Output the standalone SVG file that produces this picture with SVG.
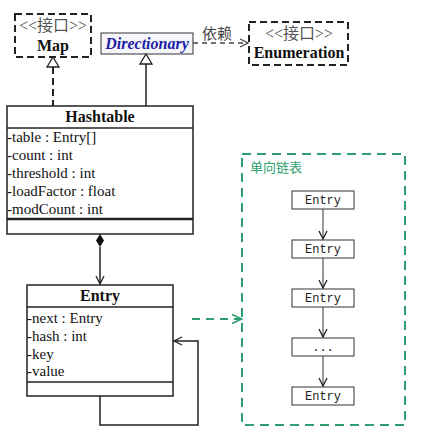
<svg xmlns="http://www.w3.org/2000/svg" width="422" height="447" viewBox="0 0 422 447">
<defs>
<marker id="open" markerWidth="10" markerHeight="10" refX="9" refY="5" orient="auto" markerUnits="userSpaceOnUse">
<path d="M1,1 L9,5 L1,9" fill="none" stroke="#222" stroke-width="1.3"/>
</marker>
<marker id="openGreen" markerWidth="12" markerHeight="12" refX="11" refY="6" orient="auto" markerUnits="userSpaceOnUse">
<path d="M1,1.5 L11,6 L1,10.5" fill="none" stroke="#2e9e6e" stroke-width="1.5"/>
</marker>
<marker id="openGray" markerWidth="10" markerHeight="10" refX="9" refY="5" orient="auto" markerUnits="userSpaceOnUse">
<path d="M1,1 L9,5 L1,9" fill="none" stroke="#444" stroke-width="1.3"/>
</marker>
</defs>
<style>
.serif{font-family:"Liberation Serif","Noto Sans CJK SC",serif;}
.title{font-family:"Liberation Serif",serif;font-weight:bold;font-size:16px;fill:#111;text-anchor:middle;}
.attr{font-family:"Liberation Serif",serif;font-size:15px;fill:#111;}
.stereo{font-family:"Liberation Serif","Noto Sans CJK SC",sans-serif;font-size:16px;fill:#555;text-anchor:middle;}
.mono{font-family:"Liberation Mono",monospace;font-size:12px;fill:#222;text-anchor:middle;}
.box{fill:#fff;stroke:#222;stroke-width:1.5;}
.ibox{fill:#fff;stroke:#222;stroke-width:2;stroke-dasharray:7 4;}
.lbox{fill:#fff;stroke:#333;stroke-width:1;}
.line{fill:none;stroke:#222;stroke-width:1.5;}
</style>
<g id="map">
<rect class="ibox" x="15" y="14" width="76" height="43"/>
<text class="stereo" x="53" y="31">&lt;&lt;接口&gt;&gt;</text>
<text class="title" x="53" y="51">Map</text>
</g>
<g id="directionary">
<rect x="101" y="33" width="92" height="21" fill="#f5f6fa" stroke="#333" stroke-width="1"/>
<text x="147" y="49" font-family="Liberation Serif, serif" font-weight="bold" font-style="italic" font-size="16" fill="#1c1ca6" text-anchor="middle">Directionary</text>
</g>
<g id="enumeration">
<rect class="ibox" x="249" y="22" width="99" height="43"/>
<text class="stereo" x="299" y="39">&lt;&lt;接口&gt;&gt;</text>
<text class="title" x="299" y="58">Enumeration</text>
</g>
<g id="hashtable">
<rect class="box" x="7" y="106" width="186" height="128"/>
<line x1="7" y1="128" x2="193" y2="128" stroke="#222" stroke-width="1.5"/>
<line x1="7" y1="219" x2="193" y2="219" stroke="#222" stroke-width="2.5"/>
<text class="title" x="100" y="122">Hashtable</text>
<text class="attr" x="7" y="142">-table : Entry[]</text>
<text class="attr" x="7" y="160">-count : int</text>
<text class="attr" x="7" y="178">-threshold : int</text>
<text class="attr" x="7" y="196">-loadFactor : float</text>
<text class="attr" x="7" y="214">-modCount : int</text>
</g>
<g id="entry">
<rect class="box" x="27" y="285" width="146" height="111"/>
<line x1="27" y1="307" x2="173" y2="307" stroke="#222" stroke-width="1.5"/>
<line x1="27" y1="382" x2="173" y2="382" stroke="#222" stroke-width="1.5"/>
<text class="title" x="100" y="301">Entry</text>
<text class="attr" x="27" y="323">-next : Entry</text>
<text class="attr" x="27" y="341">-hash : int</text>
<text class="attr" x="27" y="359">-key</text>
<text class="attr" x="27" y="376">-value</text>
</g>
<g id="linkedlist">
<rect x="242" y="154" width="163" height="271" fill="none" stroke="#2e9e6e" stroke-width="2" stroke-dasharray="9 6"/>
<text x="250" y="172" font-family="Noto Sans CJK SC, sans-serif" font-size="13" fill="#2e9e6e">单向链表</text>
<g id="le1"><rect class="lbox" x="292" y="191" width="62" height="18"/><text class="mono" x="323" y="204">Entry</text></g>
<g id="le2"><rect class="lbox" x="292" y="240" width="62" height="18"/><text class="mono" x="323" y="253">Entry</text></g>
<g id="le3"><rect class="lbox" x="292" y="289" width="62" height="18"/><text class="mono" x="323" y="302">Entry</text></g>
<g id="le4"><rect class="lbox" x="292" y="338" width="62" height="18"/><text class="mono" x="323" y="351">...</text></g>
<g id="le5"><rect class="lbox" x="292" y="387" width="62" height="18"/><text class="mono" x="323" y="400">Entry</text></g>
</g>
<g id="connectors">
<line x1="53" y1="67" x2="53" y2="106" stroke="#222" stroke-width="2" stroke-dasharray="7 4"/>
<path d="M53,57 L59,67 L47,67 Z" fill="#fff" stroke="#222" stroke-width="1.3"/>
<line x1="146" y1="64" x2="146" y2="106" stroke="#222" stroke-width="1.5"/>
<path d="M146,54 L152,64 L140,64 Z" fill="#fff" stroke="#222" stroke-width="1.3"/>
<line x1="193" y1="43" x2="248" y2="43" stroke="#444" stroke-width="1.3" stroke-dasharray="5 4" marker-end="url(#openGray)"/>
<text x="217" y="39" font-family="Noto Sans CJK SC, sans-serif" font-size="15" fill="#444" text-anchor="middle">依赖</text>
<path d="M100,234 L104,240.5 L100,247 L96,240.5 Z" fill="#111"/>
<line x1="100" y1="247" x2="100" y2="284" class="line" marker-end="url(#open)"/>
<path d="M100,396 L100,425 L198,425 L198,341 L174,341" class="line" marker-end="url(#open)"/>
<line x1="192" y1="319" x2="242" y2="319" stroke="#2e9e6e" stroke-width="1.8" stroke-dasharray="8 6" marker-end="url(#openGreen)"/>
<line x1="323" y1="209" x2="323" y2="239" stroke="#333" stroke-width="1" marker-end="url(#open)"/>
<line x1="323" y1="258" x2="323" y2="288" stroke="#333" stroke-width="1" marker-end="url(#open)"/>
<line x1="323" y1="307" x2="323" y2="337" stroke="#333" stroke-width="1" marker-end="url(#open)"/>
<line x1="323" y1="356" x2="323" y2="386" stroke="#333" stroke-width="1" marker-end="url(#open)"/>
</g>
</svg>
